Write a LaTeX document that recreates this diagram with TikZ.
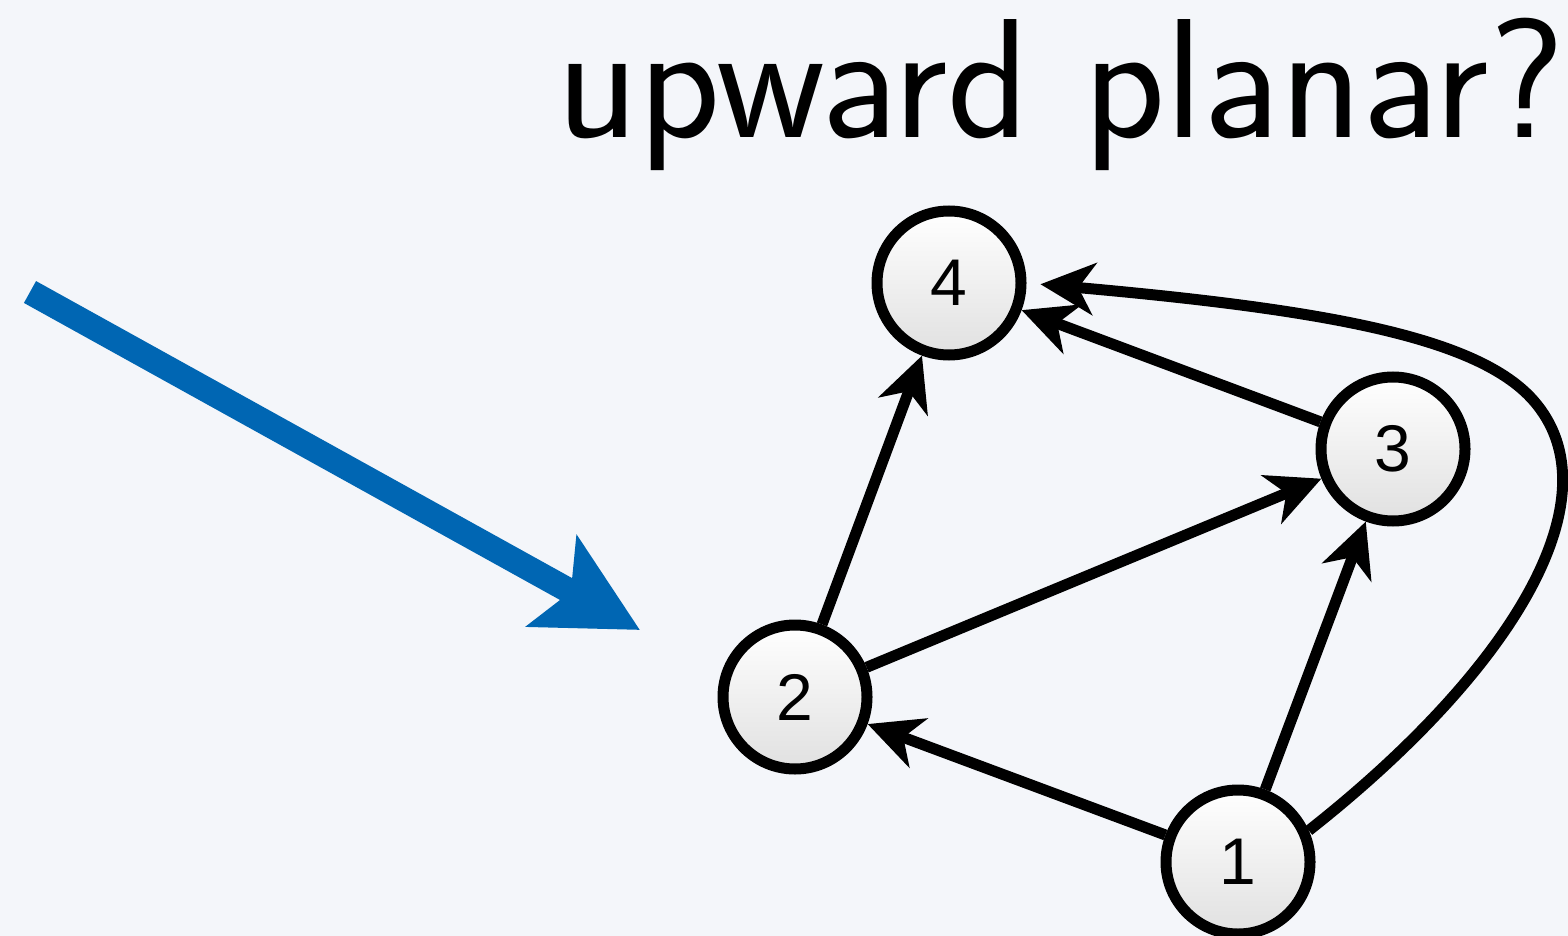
\documentclass[tikz,border=0pt]{standalone}
\usepackage{fontspec}
\usepackage{tikz}
\usetikzlibrary{arrows.meta}
\usetikzlibrary{positioning}
\newfontfamily\labelfont{Liberation Sans}
\definecolor{backdrop}{RGB}{244,246,250}
\definecolor{pointer}{RGB}{0,102,179}
\tikzset{vertex/.style = {circle, draw, line width=5.5pt, minimum size=72pt, inner sep=0pt,
                          top color=white, bottom color=black!12,
                          font=\labelfont\fontsize{33}{33}\selectfont},
         edge/.style = {line width=5.5pt, -{Stealth[length=27pt, width=26pt, inset=8pt]}}}

\begin{document}
\begin{tikzpicture}[x=0.5pt, y=-0.5pt]
    \fill [backdrop] (0, 0) rectangle (1568, 936);
    \useasboundingbox (0, 0) rectangle (1568, 936);
    \node [anchor=base west, inner sep=0pt, font=\sffamily\fontsize{85}{85}\selectfont] (title) at (556, 138) {upward planar?};
    \node [vertex] (n4) at (949, 283) {4};
    \node [vertex] (n3) at (1393, 449) {3};
    \node [vertex] (n2) at (795, 697) {2};
    \node [vertex] (n1) at (1238, 862) {1};
    \draw [edge] (n2) -- (n4);
    \draw [edge] (n2) -- (n3);
    \draw [edge] (n3) -- (n4);
    \draw [edge] (n1) -- (n2);
    \draw [edge] (n1) -- (n3);
    \coordinate (bend) at (1533, 400);
    \draw [edge, shorten >=7pt] (n1.24) .. controls (1510, 672) and (1619, 497) .. (bend)
        .. controls (1478, 338) and (1330, 310) .. (n4.east);
    \coordinate (from) at (30, 292);
    \coordinate (tip) at (640, 630);
    \draw [pointer, line width=12.5pt, -{Stealth[length=50pt, width=51pt, inset=10.5pt]}] (from) -- (tip);
\end{tikzpicture}
\end{document}
